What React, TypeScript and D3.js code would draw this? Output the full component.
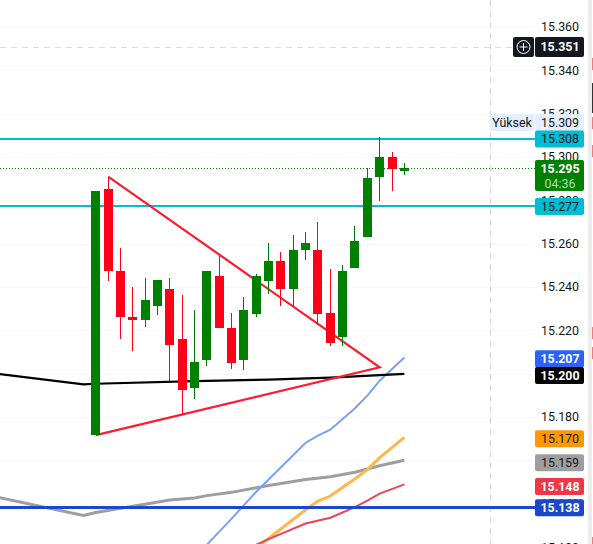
import React from "react";
import * as d3 from "d3";

const WIDTH = 593;
const HEIGHT = 544;

// candle series, index 0..25
const opens = [15.1719, 15.2853, 15.2475, 15.2263, 15.2249, 15.2311, 15.2392, 15.2162, 15.1933, 15.2062, 15.2452, 15.2212, 15.2062, 15.2278, 15.2430, 15.2521, 15.2389, 15.2569, 15.2572, 15.2282, 15.2172, 15.2490, 15.2629, 15.2910, 15.3001, 15.2938];
const highs = [15.2844, 15.2910, 15.2581, 15.2401, 15.2443, 15.2434, 15.2443, 15.2365, 15.2295, 15.2475, 15.2544, 15.2282, 15.2355, 15.2461, 15.2604, 15.2563, 15.2641, 15.2655, 15.2701, 15.2484, 15.2503, 15.2683, 15.2950, 15.3093, 15.3024, 15.2973];
const lows = [15.1719, 15.2426, 15.2162, 15.2103, 15.2214, 15.2272, 15.1965, 15.1811, 15.1885, 15.2034, 15.2209, 15.2023, 15.2016, 15.2264, 15.2366, 15.2315, 15.2311, 15.2523, 15.2223, 15.2126, 15.2126, 15.2486, 15.2629, 15.2795, 15.2845, 15.2915];
const closes = [15.2844, 15.2472, 15.2260, 15.2249, 15.2341, 15.2434, 15.2131, 15.1923, 15.2056, 15.2475, 15.2209, 15.2052, 15.2295, 15.2452, 15.2521, 15.2389, 15.2572, 15.2604, 15.2278, 15.2140, 15.2475, 15.2613, 15.2904, 15.3001, 15.2947, 15.2950];

// moving averages: [candle index, price]
const blackMaIdx = [-8, -1, 0, 8, 14, 19, 25];
const blackMaVal = [15.2, 15.1951, 15.1954, 15.1966, 15.1973, 15.1982, 15.2];
const grayMaIdx = [-8, -1, 0, 3, 6, 8, 9, 11, 14, 17, 19, 21, 23, 25];
const grayMaVal = [15.1431, 15.1346, 15.136, 15.1389, 15.1418, 15.1427, 15.1438, 15.1453, 15.1485, 15.1512, 15.1525, 15.1546, 15.1576, 15.1601];
const blueMaIdx = [9, 11, 12, 13, 17, 18, 19, 21, 22, 23, 25];
const blueMaVal = [15.1212, 15.1332, 15.1394, 15.1456, 15.1682, 15.1715, 15.1742, 15.1841, 15.1899, 15.1968, 15.2075];
const orangeMaIdx = [13, 14, 17, 18, 19, 21, 22, 23, 25];
const orangeMaVal = [15.1198, 15.124, 15.1373, 15.1413, 15.1436, 15.1516, 15.1558, 15.1613, 15.1707];
const redMaIdx = [13, 14, 17, 19, 21, 22, 23, 25];
const redMaVal = [15.1212, 15.1237, 15.1309, 15.1336, 15.1385, 15.1415, 15.1447, 15.149];

const triangleIdx = [1, 23, 0];
const triangleVal = [15.291, 15.203, 15.1717];

const levelCyan = [15.308, 15.277];
const levelBlue = 15.138;
const lastPrice = 15.295;
const crosshairPrice = 15.351;

const gridValues = [15.36, 15.34, 15.32, 15.3, 15.28, 15.26, 15.24, 15.22, 15.2, 15.18, 15.16, 15.14, 15.12];
const tickValues = [15.36, 15.34, 15.32, 15.3, 15.28, 15.26, 15.24, 15.22, 15.18, 15.14, 15.12];

const priceLabels = ["15.207", "15.200", "15.170", "15.159", "15.148", "15.138"];
const priceLabelFill = ["#2962ff", "#000000", "#ff9800", "#9e9e9e", "#f23645", "#1848cc"];
const priceLabelText = ["#ffffff", "#ffffff", "#131722", "#131722", "#ffffff", "#ffffff"];
const priceLabelShift = [0, 1.7, 0, 0, 0, -0.5];

const UP = "#008000";
const DOWN = "#ff0019";
const FONT = "Roboto, 'Liberation Sans', sans-serif";

const x = d3.scaleLinear().domain([0, 25]).range([95.85, 404.35]);
const y = d3.scaleLinear().domain([15.36, 15.12]).range([27, 547.2]);
const snap = (v: number) => Math.floor(v) + 0.5;

const line = (idx: number[], val: number[]) =>
  d3.line<number>().x((d) => x(idx[d])).y((d) => y(val[d])).curve(d3.curveLinear)(d3.range(idx.length)) as string;

function Label({ cy, h = 17, fill, text, color, bold = false }: { cy: number; h?: number; fill: string; text: string; color: string; bold?: boolean }) {
  return (
    <g>
      <rect x={535} y={cy - h / 2} width={49} height={h} rx={2} fill={fill} />
      <text x={560} y={cy + 4.3} textAnchor="middle" fontSize={12.4} fontWeight={bold ? 700 : 400} fill={color} fontFamily={FONT}>{text}</text>
    </g>
  );
}

export default function App() {
  return (
    <svg width={WIDTH} height={HEIGHT} viewBox={`0 0 ${WIDTH} ${HEIGHT}`} style={{ position: "absolute", left: 0, top: 0, display: "block", background: "#fff" }}>
      {/* grid */}
      {gridValues.map((t) => (
        <line key={t} x1={0} x2={535} y1={Math.round(y(t)) + 0.5} y2={Math.round(y(t)) + 0.5} stroke="#f7f7f7" />
      ))}

      {/* crosshair */}
      <line x1={490.5} x2={490.5} y1={0} y2={HEIGHT} stroke="#d6d6d6" strokeDasharray="6 5" />
      <line x1={0} x2={513} y1={Math.round(y(crosshairPrice)) + 0.5} y2={Math.round(y(crosshairPrice)) + 0.5} stroke="#dcdcdc" strokeDasharray="6 5" />

      {/* moving averages */}
      <path d={line(grayMaIdx, grayMaVal)} fill="none" stroke="#9e9e9e" strokeWidth={3} />
      <path d={line(blueMaIdx, blueMaVal)} fill="none" stroke="#7c9ff5" strokeWidth={2} />
      <path d={line(orangeMaIdx, orangeMaVal)} fill="none" stroke="#ffb74d" strokeWidth={3} />
      <path d={line(redMaIdx, redMaVal)} fill="none" stroke="#ef4358" strokeWidth={2} />
      <path d={line(blackMaIdx, blackMaVal)} fill="none" stroke="#000000" strokeWidth={2.2} />

      {/* levels */}
      {levelCyan.map((l) => (
        <line key={l} x1={0} x2={535} y1={Math.floor(y(l))} y2={Math.floor(y(l))} stroke="#00bcd4" strokeWidth={2} />
      ))}
      <line x1={0} x2={535} y1={Math.floor(y(levelBlue)) - 0.5} y2={Math.floor(y(levelBlue)) - 0.5} stroke="#1848cc" strokeWidth={3} />
      <line x1={0} x2={535} y1={Math.round(y(lastPrice)) + 0.5} y2={Math.round(y(lastPrice)) + 0.5} stroke={UP} strokeDasharray="1 2" />

      {/* triangle drawing */}
      <path d={line(triangleIdx, triangleVal)} fill="none" stroke="#ff1a30" strokeWidth={2.2} />

      {/* candles */}
      {opens.map((o, i) => {
        const c = closes[i];
        const color = c >= o ? UP : DOWN;
        const xc = snap(x(i));
        const top = Math.round(y(Math.max(o, c)));
        const bottom = Math.round(y(Math.min(o, c)));
        return (
          <g key={i}>
            <line x1={xc} x2={xc} y1={Math.round(y(highs[i]))} y2={Math.round(y(lows[i]))} stroke={color} />
            <rect x={xc - 4.5} y={top} width={9} height={Math.max(bottom - top, 3)} fill={color} />
          </g>
        );
      })}

      {/* axis */}
      {tickValues.map((t) => (
        <text key={t} x={560} y={y(t) + 4.3} textAnchor="middle" fontSize={12.4} fill="#131722" fontFamily={FONT}>{d3.format(".3f")(t)}</text>
      ))}

      {/* crosshair labels */}
      <rect x={513} y={37} width={21} height={20} rx={2} fill="#131722" />
      <circle cx={523.5} cy={47} r={6.5} fill="none" stroke="#fff" />
      <line x1={519.5} x2={527.5} y1={47} y2={47} stroke="#fff" />
      <line x1={523.5} x2={523.5} y1={43} y2={51} stroke="#fff" />
      <Label cy={47} h={20} fill="#131722" text={d3.format(".3f")(crosshairPrice)} color="#ffffff" bold />

      {/* high label */}
      <rect x={490} y={114} width={44} height={17} rx={2} fill="#e3effd" />
      <text x={512} y={126.5} textAnchor="middle" fontSize={12.4} fill="#131722" fontFamily={FONT}>Yüksek</text>
      <Label cy={122.5} fill="#e3effd" text="15.309" color="#131722" />
      <Label cy={139} fill="#00bcd4" text={d3.format(".3f")(levelCyan[0])} color="#131722" />

      {/* last price */}
      <rect x={535} y={160} width={49} height={31} rx={2} fill={UP} />
      <text x={560} y={173} textAnchor="middle" fontSize={12.4} fontWeight={700} fill="#fff" fontFamily={FONT}>{d3.format(".3f")(lastPrice)}</text>
      <text x={560} y={187.5} textAnchor="middle" fontSize={12.4} fill="#b5dcb5" fontFamily={FONT}>04:36</text>
      <Label cy={206.5} fill="#00bcd4" text={d3.format(".3f")(levelCyan[1])} color="#131722" />

      {priceLabels.map((s, i) => (
        <Label key={s} cy={y(+s) + priceLabelShift[i]} fill={priceLabelFill[i]} text={s} color={priceLabelText[i]} bold={priceLabelText[i] === "#ffffff"} />
      ))}

      {/* right edge */}
      <rect x={588} y={0} width={4} height={HEIGHT} fill="#ececec" />
      <rect x={592} y={83} width={1} height={30} fill="#333" />
      {[58, 117, 145, 327, 347, 537].map((t) => (
        <rect key={t} x={592} y={t} width={1} height={12} fill="#f27a7a" />
      ))}
    </svg>
  );
}
